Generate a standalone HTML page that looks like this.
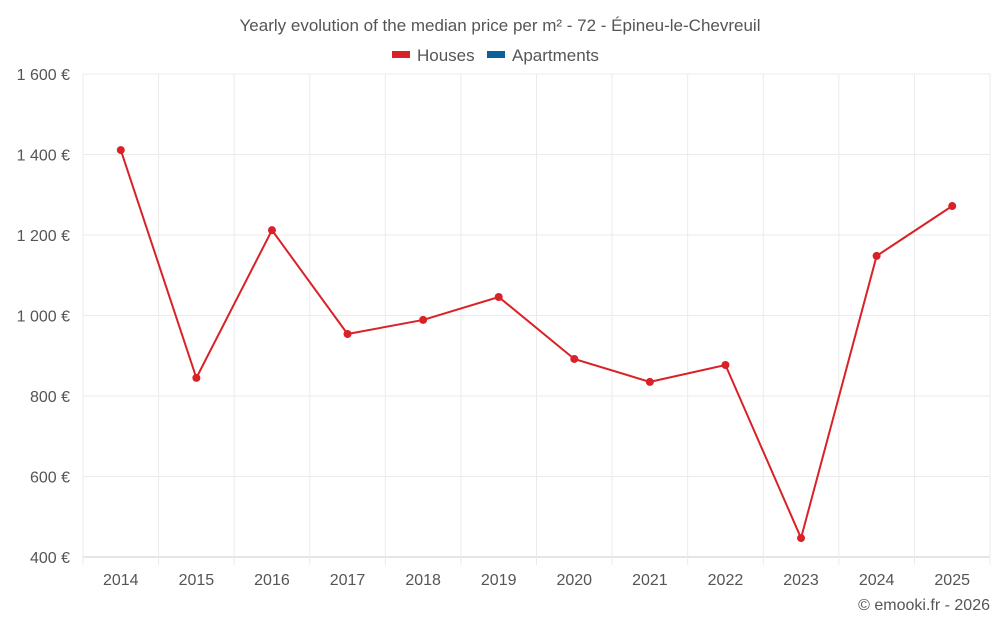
<!DOCTYPE html>
<html><head><meta charset="utf-8">
<style>
body{margin:0;background:#fff;font-family:"Liberation Sans",sans-serif;}
svg text{font-family:"Liberation Sans",sans-serif;}
</style></head>
<body>
<svg width="1000" height="625" id="chart">
<text x="500" y="31" text-anchor="middle" font-size="17" fill="#555">Yearly evolution of the median price per m² - 72 - Épineu-le-Chevreuil</text>
<g>
<g><rect x="392" y="51" width="18" height="7" fill="#d92228"/><text x="417" y="61" font-size="17" fill="#555">Houses</text></g>
<g><rect x="487" y="51" width="18" height="7" fill="#0b5f9a"/><text x="512" y="61" font-size="17" fill="#555">Apartments</text></g>
</g>
<g id="grid"></g><g id="axes"></g><g id="series"></g>
<text x="990" y="610" text-anchor="end" font-size="16" fill="#555">© emooki.fr - 2026</text>
</svg>
<script>
const years=[2014,2015,2016,2017,2018,2019,2020,2021,2022,2023,2024,2025];
const houses=[1411,845,1212,954,989,1046,892,835,877,447,1148,1272];
const yTicks=[400,600,800,1000,1200,1400,1600];
const yTickLabels=["400 €","600 €","800 €","1 000 €","1 200 €","1 400 €","1 600 €"];
const NS="http://www.w3.org/2000/svg";
const L=83,R=990,T=74,B=557,yMin=400,yMax=1600;
const step=(R-L)/years.length;
const xS=i=>L+step*(i+0.5);
const yS=v=>B-(v-yMin)/(yMax-yMin)*(B-T);
function mk(tag,attrs,parent){const e=document.createElementNS(NS,tag);for(const k in attrs)e.setAttribute(k,attrs[k]);document.getElementById(parent).appendChild(e);return e;}
yTicks.forEach((t,i)=>{
 const g=mk('line',{x1:L,x2:R,y1:yS(t),y2:yS(t),stroke:i===0?'#ccc':'#ebebeb'},'grid');
 
 
 const tx=mk('text',{x:70,y:yS(t)+6,'text-anchor':'end','font-size':16,fill:'#555'},'axes');
 tx.textContent=yTickLabels[i];
 
 
});
for(let i=0;i<=years.length;i++){
 const x=L+step*i;
 const g=mk('line',{x1:x,x2:x,y1:T,y2:B+8,stroke:'#ebebeb'},'grid');
 
 
}
years.forEach((y,i)=>{
 const tx=mk('text',{x:xS(i),y:585,'text-anchor':'middle','font-size':16,fill:'#555'},'axes');
 tx.textContent=y;
 
 
});
const pl=mk('polyline',{points:houses.map((v,i)=>xS(i)+','+yS(v)).join(' '),fill:'none',stroke:'#d92228','stroke-width':2},'series');


houses.forEach((v,i)=>{
 const c=mk('circle',{cx:xS(i),cy:yS(v),r:4,fill:'#d92228'},'series');
 
 
});
</script>
</body></html>
